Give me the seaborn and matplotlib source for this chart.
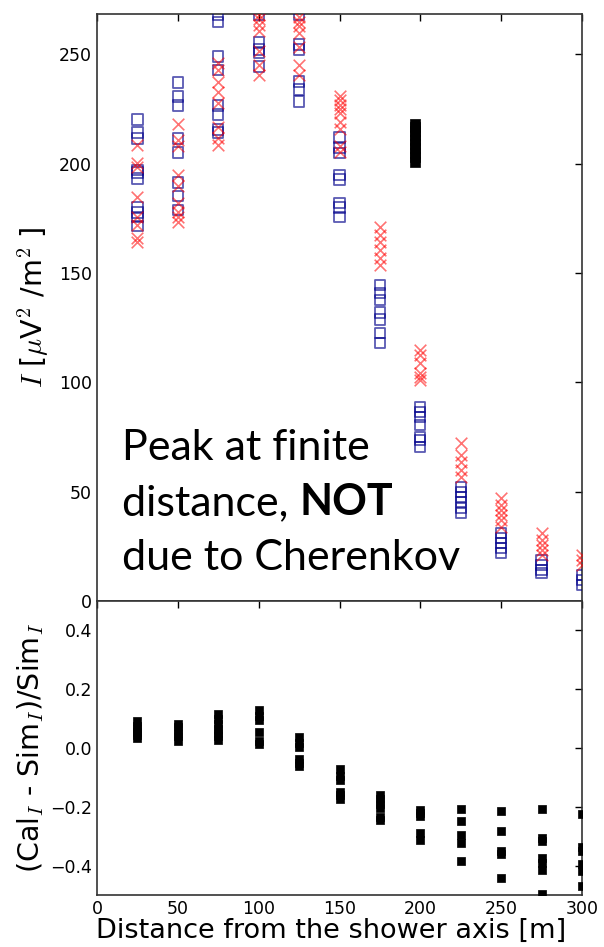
import numpy as np
import pandas as pd
import matplotlib
matplotlib.use("Agg")
import matplotlib.pyplot as plt
import seaborn as sns

# ---------------- data ----------------
distances = [25, 50, 75, 100, 125, 150, 175, 200, 225, 250, 275, 300]

cal_I = {  # red crosses
    25: [208.8, 200.5, 198.7, 185.0, 175.8, 172.2, 166.2, 164.4],
    50: [218.0, 211.0, 207.9, 195.0, 189.6, 182.2, 178.0, 173.5, 175.5],
    75: [246.0, 243.0, 237.6, 232.6, 228.0, 216.6, 212.0, 208.8],
    100: [268.0, 266.0, 263.5, 260.5, 251.4, 245.4, 240.8],
    125: [267.0, 265.0, 263.0, 260.0, 253.2, 245.4, 240.8],
    150: [230.8, 229.0, 227.0, 225.0, 223.4, 219.3, 215.7, 207.9, 205.6],
    175: [171.2, 167.6, 164.0, 160.7, 157.0, 153.8],
    200: [114.9, 112.6, 109.0, 104.4, 102.5, 101.2],
    225: [72.3, 66.8, 63.6, 60.0, 56.8],
    250: [47.2, 44.0, 41.7, 39.4, 37.1, 33.9],
    275: [31.1, 27.9, 25.6, 23.4, 21.1],
    300: [21.0, 18.8, 16.5],
}

sim_I = {  # blue open squares
    25: [220.2, 214.3, 211.5, 197.3, 196.0, 193.2, 180.0, 177.7, 175.5, 171.4],
    50: [237.2, 230.8, 226.6, 211.5, 205.1, 191.4, 185.4, 179.0],
    75: [268.0, 265.0, 249.0, 243.0, 226.6, 222.5, 215.7, 214.3],
    100: [268.0, 255.5, 252.3, 250.9, 244.5],
    125: [268.0, 254.6, 252.3, 237.6, 234.0, 228.5],
    150: [212.0, 207.4, 205.0, 195.0, 192.8, 182.2, 180.0, 175.8],
    175: [144.7, 141.0, 137.8, 131.9, 128.7, 122.7, 118.1],
    200: [88.8, 86.5, 84.2, 80.6, 75.1, 73.7, 70.5],
    225: [52.2, 49.9, 47.6, 45.3, 42.6, 40.3],
    250: [31.1, 28.8, 26.6, 24.3, 22.0],
    275: [18.8, 16.5, 14.2, 12.8],
    300: [11.9, 9.6, 7.3],
}

stray_x = 197
stray_y = [201, 203, 205, 207, 209, 211, 213, 215, 217, 218]

residuals = {
    25: [0.093, 0.075, 0.065, 0.055, 0.045, 0.033],
    50: [0.082, 0.070, 0.050, 0.040, 0.024],
    75: [0.115, 0.100, 0.080, 0.065, 0.050, 0.040, 0.027],
    100: [0.128, 0.110, 0.095, 0.055, 0.025, 0.012],
    125: [0.039, 0.018, 0.005, -0.038, -0.050, -0.062],
    150: [-0.072, -0.095, -0.110, -0.150, -0.160, -0.172],
    175: [-0.160, -0.175, -0.190, -0.205, -0.235, -0.245],
    200: [-0.210, -0.220, -0.230, -0.288, -0.313],
    225: [-0.206, -0.248, -0.295, -0.323, -0.385],
    250: [-0.214, -0.282, -0.351, -0.360, -0.442],
    275: [-0.206, -0.305, -0.317, -0.374, -0.392, -0.415, -0.495],
    300: [-0.226, -0.337, -0.351, -0.394, -0.419, -0.468],
}

xticks = [0, 50, 100, 150, 200, 250, 300]
top_yticks = [0, 50, 100, 150, 200, 250]
bot_yticks = [-0.4, -0.2, 0.0, 0.2, 0.4]

def to_df(d):
    rows = [(k, v) for k, vals in d.items() for v in vals]
    return pd.DataFrame(rows, columns=["x", "y"])

df_cal = to_df(cal_I)
df_sim = to_df(sim_I)
df_res = to_df(residuals)
df_stray = pd.DataFrame({"x": [stray_x] * len(stray_y), "y": stray_y})

# ---------------- figure ----------------
sns.set_style("white")
plt.rcParams["mathtext.fontset"] = "cm"
plt.rcParams["font.family"] = ["DejaVu Sans"]
plt.rcParams["text.color"] = "black"
plt.rcParams["axes.labelcolor"] = "black"

fig = plt.figure(figsize=(6.04, 9.47), dpi=100)
ax1 = fig.add_axes([97 / 604, (947 - 601) / 947, (582 - 97) / 604, (601 - 14) / 947])
ax2 = fig.add_axes([97 / 604, (947 - 895) / 947, (582 - 97) / 604, (895 - 601) / 947])

sns.scatterplot(data=df_sim, x="x", y="y", ax=ax1, marker="s", s=55,
                facecolor="none", edgecolor="#00008B", linewidth=1.3,
                alpha=0.65, legend=False, zorder=3)
sns.scatterplot(data=df_cal, x="x", y="y", ax=ax1, marker="x", s=70,
                color="red", linewidth=1.2, alpha=0.55, legend=False, zorder=4)
sns.scatterplot(data=df_stray, x="x", y="y", ax=ax1, marker="s", s=45,
                color="black", edgecolor="black", linewidth=0.5,
                legend=False, zorder=5)

sns.scatterplot(data=df_res, x="x", y="y", ax=ax2, marker="s", s=40,
                color="black", edgecolor="black", linewidth=0.5,
                legend=False, zorder=3)

for ax in (ax1, ax2):
    ax.set_xlim(0, 300)
    ax.set_xticks(xticks)
    ax.tick_params(direction="in", length=5, width=1, top=True, right=True,
                   labelsize=12.5, colors="black")
    for sp in ax.spines.values():
        sp.set_color("#333333")
        sp.set_linewidth(1.2)

ax1.set_ylim(0, 268.5)
ax1.set_yticks(top_yticks)
ax1.set_xticklabels([])
ax1.set_xlabel("")
ax1.set_ylabel(r"$I$ [$\mu$V$^2$ /m$^2$ ]", fontsize=20.5, labelpad=6)

ax2.set_ylim(-0.5, 0.5)
ax2.set_yticks(bot_yticks)
ax2.set_yticklabels([f"{v:.1f}".replace("-", "\u2212") for v in bot_yticks])
ax2.set_xlabel("Distance from the shower axis [m]", fontsize=19.5)
ax2.xaxis.set_label_coords(0.483, -(938 - 895) / 294)
ax2.xaxis.label.set_va("baseline")
ax2.set_ylabel(r"(Cal$_I$ - Sim$_I$)/Sim$_I$", fontsize=20.5, labelpad=3)

# annotation text
tfont = dict(fontsize=31, family="Lato", color="black", va="baseline")
x0 = 122 / 604
fig.text(x0, 1 - 460 / 947, "Peak at finite", **tfont)
t2 = fig.text(x0, 1 - 515 / 947, "distance, ", **tfont)
fig.text(x0, 1 - 570 / 947, "due to Cherenkov", **tfont)
fig.canvas.draw()
bb = t2.get_window_extent(renderer=fig.canvas.get_renderer())
fig.text(bb.x1 / fig.bbox.width, 1 - 515 / 947, "NOT",
         fontweight="bold", **tfont)

fig.savefig("out.png", dpi=100)
